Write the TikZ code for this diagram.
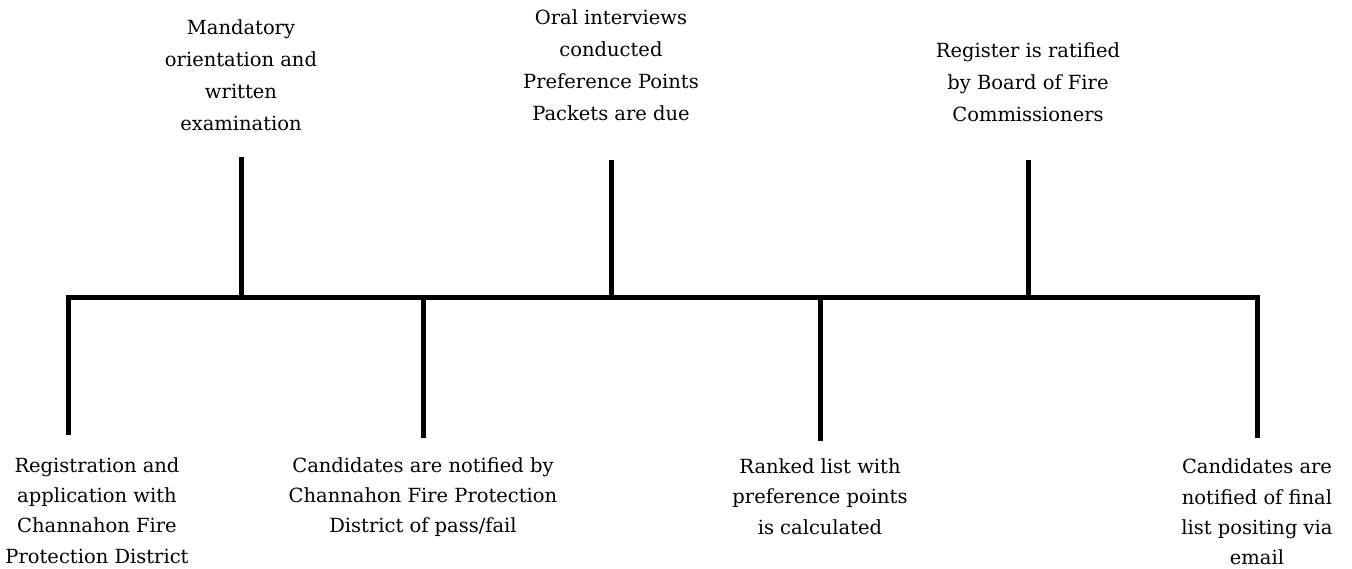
\documentclass[tikz,border=0pt]{standalone}
\usepackage{fontspec}
\setmainfont{DejaVu Serif}
\begin{document}
\begin{tikzpicture}[x=1pt,y=-1pt,
  bar/.style={line width=5pt,black},
  lbl/.style={align=center,inner sep=0pt,text=black},
  lbltop/.style={lbl,font=\fontsize{19.5}{32}\selectfont},
  lblbot/.style={lbl,font=\fontsize{19.5}{30.3}\selectfont}]
\useasboundingbox (0,0) rectangle (1352,568);
% axis
\coordinate (L) at (66,297);
\coordinate (R) at (1260,297);
\draw[bar] (L) -- (R);
% tick points on axis
\coordinate (a1) at (68,297);
\coordinate (a2) at (241,297);
\coordinate (a3) at (423,297);
\coordinate (a4) at (611,297);
\coordinate (a5) at (820,297);
\coordinate (a6) at (1028,297);
\coordinate (a7) at (1257,297);
% tick ends
\coordinate (e1) at (68,435);
\coordinate (e2) at (241,157);
\coordinate (e3) at (423,438);
\coordinate (e4) at (611,160);
\coordinate (e5) at (820,441);
\coordinate (e6) at (1028,160);
\coordinate (e7) at (1257,438);
\draw[bar] (68,294.5) -- (e1);
\foreach \i in {2,...,7} \draw[bar] (a\i) -- (e\i);
% labels
\node[lbltop] (t2) at (241,75.5) {Mandatory\\orientation and\\written\\examination};
\node[lbltop] (t4) at (611,65) {Oral interviews\\conducted\\Preference Points\\Packets are due};
\node[lbltop] (t6) at (1028,82) {Register is ratified\\by Board of Fire\\Commissioners};
\node[lblbot] (t1) at (97,510.5) {Registration and\\application with\\Channahon Fire\\Protection District};
\node[lblbot] (t3) at (423,497) {Candidates are notified by\\Channahon Fire Protection\\District of pass/fail};
\node[lblbot] (t5) at (820,496.5) {Ranked list with\\preference points\\is calculated};
\node[lblbot] (t7) at (1257,512) {Candidates are\\notified of final\\list positing via\\email};
\end{tikzpicture}
\end{document}
